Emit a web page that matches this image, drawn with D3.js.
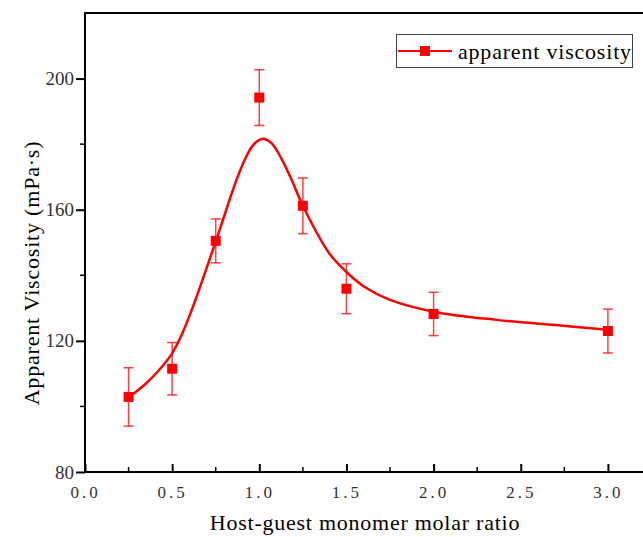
<!DOCTYPE html>
<html>
<head>
<meta charset="utf-8">
<script src="https://cdn.jsdelivr.net/npm/d3@7"></script>
<style>
  html, body { margin: 0; padding: 0; background: #fff; }
  svg { display: block; }
  text { font-family: "Liberation Serif", "Times New Roman", Times, "DejaVu Serif", serif; }
</style>
</head>
<body>
<svg id="chart" width="643" height="537"></svg>
<script>
// ---- data ----
const ratios     = [0.25, 0.5, 0.75, 1.0, 1.25, 1.5, 2.0, 3.0];
const viscosity  = [102.9, 111.5, 150.5, 194.2, 161.2, 135.9, 128.2, 123.0];
const errors     = [8.9, 8.0, 6.7, 8.5, 8.5, 7.6, 6.6, 6.7];
// fitted curve
const fitX = [0.25, 0.30, 0.35, 0.42, 0.50, 0.56, 0.62, 0.75, 0.87, 0.92, 0.96, 1.00, 1.03, 1.07, 1.12, 1.18, 1.25, 1.40, 1.50, 1.60, 1.75, 2.0, 2.36, 2.7, 3.0];
const fitY = [102.9, 104.8, 107.0, 110.8, 116.2, 122.5, 130.5, 150.3, 169.2, 175.6, 179.4, 181.3, 181.6, 180.3, 176.3, 169.8, 161.2, 146.8, 141.0, 136.6, 132.5, 128.9, 126.4, 124.8, 123.4];
const xMajorTicks = [0, 0.5, 1.0, 1.5, 2.0, 2.5, 3.0];
const xTickLabels = ["0.0", "0.5", "1.0", "1.5", "2.0", "2.5", "3.0"];
const xMinorTicks = [0.25, 0.75, 1.25, 1.75, 2.25, 2.75];
const yMajorTicks = [80, 120, 160, 200];
const yTickLabels = ["80", "120", "160", "200"];
const yMinorTicks = [100, 140, 180];
const seriesName = "apparent viscosity";
const xTitle = "Host-guest monomer molar ratio";
const yTitle = "Apparent Viscosity (mPa\u00B7s)";

(function () {
// ---- layout ----
const svg = d3.select("#chart");
const mLeft = 85, mTop = 13, mBottom = 472;
const x = d3.scaleLinear().domain([0, 3.2]).range([mLeft, mLeft + 3.2 * 174.3]);
const y = d3.scaleLinear().domain([80, 220]).range([mBottom, mTop]);
const red = "#ff0000";
const serif = '"Liberation Serif", "Times New Roman", Times, "DejaVu Serif", serif';

// frame (right edge lies outside the window)
svg.append("rect")
  .attr("x", mLeft).attr("y", mTop)
  .attr("width", x.range()[1] - mLeft + 4).attr("height", mBottom - mTop)
  .attr("fill", "none").attr("stroke", "#000").attr("stroke-width", 2);

// x axis: ticks pointing inward (up)
const gx = svg.append("g").attr("transform", `translate(0,${mBottom})`);
gx.call(d3.axisBottom(x).tickValues(xMajorTicks).tickSize(0).tickFormat((d, i) => xTickLabels[i]))
  .call(g => g.select(".domain").remove());
gx.attr("font-family", null);
gx.selectAll(".tick text")
  .attr("dy", 0).attr("y", 26)
  .style("font-family", serif).attr("font-size", 17).attr("fill", "#333")
  .attr("letter-spacing", "3px");
gx.selectAll(".tick").append("line")
  .attr("y1", 0).attr("y2", -8).attr("stroke", "#000").attr("stroke-width", 2);
gx.selectAll(".minor").data(xMinorTicks).enter().append("line")
  .attr("x1", d => x(d)).attr("x2", d => x(d)).attr("y1", 0).attr("y2", -5)
  .attr("stroke", "#000").attr("stroke-width", 1.5);

// y axis: ticks pointing outward (left)
const gy = svg.append("g").attr("transform", `translate(${mLeft},0)`);
gy.call(d3.axisLeft(y).tickValues(yMajorTicks).tickSize(9).tickPadding(2).tickFormat((d, i) => yTickLabels[i]))
  .call(g => g.select(".domain").remove());
gy.attr("font-family", null);
gy.selectAll(".tick line").attr("stroke", "#000").attr("stroke-width", 2);
gy.selectAll(".tick text")
  .style("font-family", serif).attr("font-size", 19).attr("fill", "#333");
gy.selectAll(".minor").data(yMinorTicks).enter().append("line")
  .attr("x1", 0).attr("x2", -5).attr("y1", d => y(d)).attr("y2", d => y(d))
  .attr("stroke", "#000").attr("stroke-width", 1.5);

// axis titles
svg.append("text")
  .attr("x", 365).attr("y", 530).attr("text-anchor", "middle")
  .style("font-family", serif).attr("font-size", 22).attr("letter-spacing", "0.75px").attr("fill", "#000")
  .text(xTitle);
svg.append("text")
  .attr("transform", "translate(39,273) rotate(-90)").attr("text-anchor", "middle")
  .style("font-family", serif).attr("font-size", 22).attr("letter-spacing", "0.8px").attr("fill", "#000")
  .text(yTitle);

// fitted curve
const fit = fitX.map((d, i) => [d, fitY[i]]);
svg.append("path")
  .datum(fit)
  .attr("d", d3.line().x(d => x(d[0])).y(d => y(d[1])).curve(d3.curveCatmullRom.alpha(0.5)))
  .attr("fill", "none").attr("stroke", red).attr("stroke-width", 2.5);

// error bars
const pts = ratios.map((d, i) => ({ x: d, y: viscosity[i], e: errors[i] }));
const eb = svg.append("g").attr("stroke", red).attr("stroke-opacity", 0.75).attr("stroke-width", 1.5);
eb.selectAll(".v").data(pts).enter().append("line")
  .attr("x1", d => x(d.x)).attr("x2", d => x(d.x))
  .attr("y1", d => y(d.y + d.e)).attr("y2", d => y(d.y - d.e));
eb.selectAll(".cu").data(pts).enter().append("line")
  .attr("x1", d => x(d.x) - 5).attr("x2", d => x(d.x) + 5)
  .attr("y1", d => y(d.y + d.e)).attr("y2", d => y(d.y + d.e));
eb.selectAll(".cl").data(pts).enter().append("line")
  .attr("x1", d => x(d.x) - 5).attr("x2", d => x(d.x) + 5)
  .attr("y1", d => y(d.y - d.e)).attr("y2", d => y(d.y - d.e));

// markers
svg.selectAll(".pt").data(pts).enter().append("rect")
  .attr("x", d => x(d.x) - 5).attr("y", d => y(d.y) - 5)
  .attr("width", 10).attr("height", 10).attr("fill", red);

// legend
const lg = svg.append("g");
lg.append("rect").attr("x", 396.5).attr("y", 34.5).attr("width", 236).attr("height", 33)
  .attr("fill", "#fff").attr("stroke", "#444").attr("stroke-width", 1);
lg.append("line").attr("x1", 398).attr("x2", 452).attr("y1", 51).attr("y2", 51)
  .attr("stroke", red).attr("stroke-width", 2);
lg.append("rect").attr("x", 420).attr("y", 46).attr("width", 10).attr("height", 10).attr("fill", red);
lg.append("text").attr("x", 458).attr("y", 58.5)
  .style("font-family", serif).attr("font-size", 22).attr("letter-spacing", "0.8px").attr("fill", "#000")
  .text(seriesName);
})();
</script>
</body>
</html>
